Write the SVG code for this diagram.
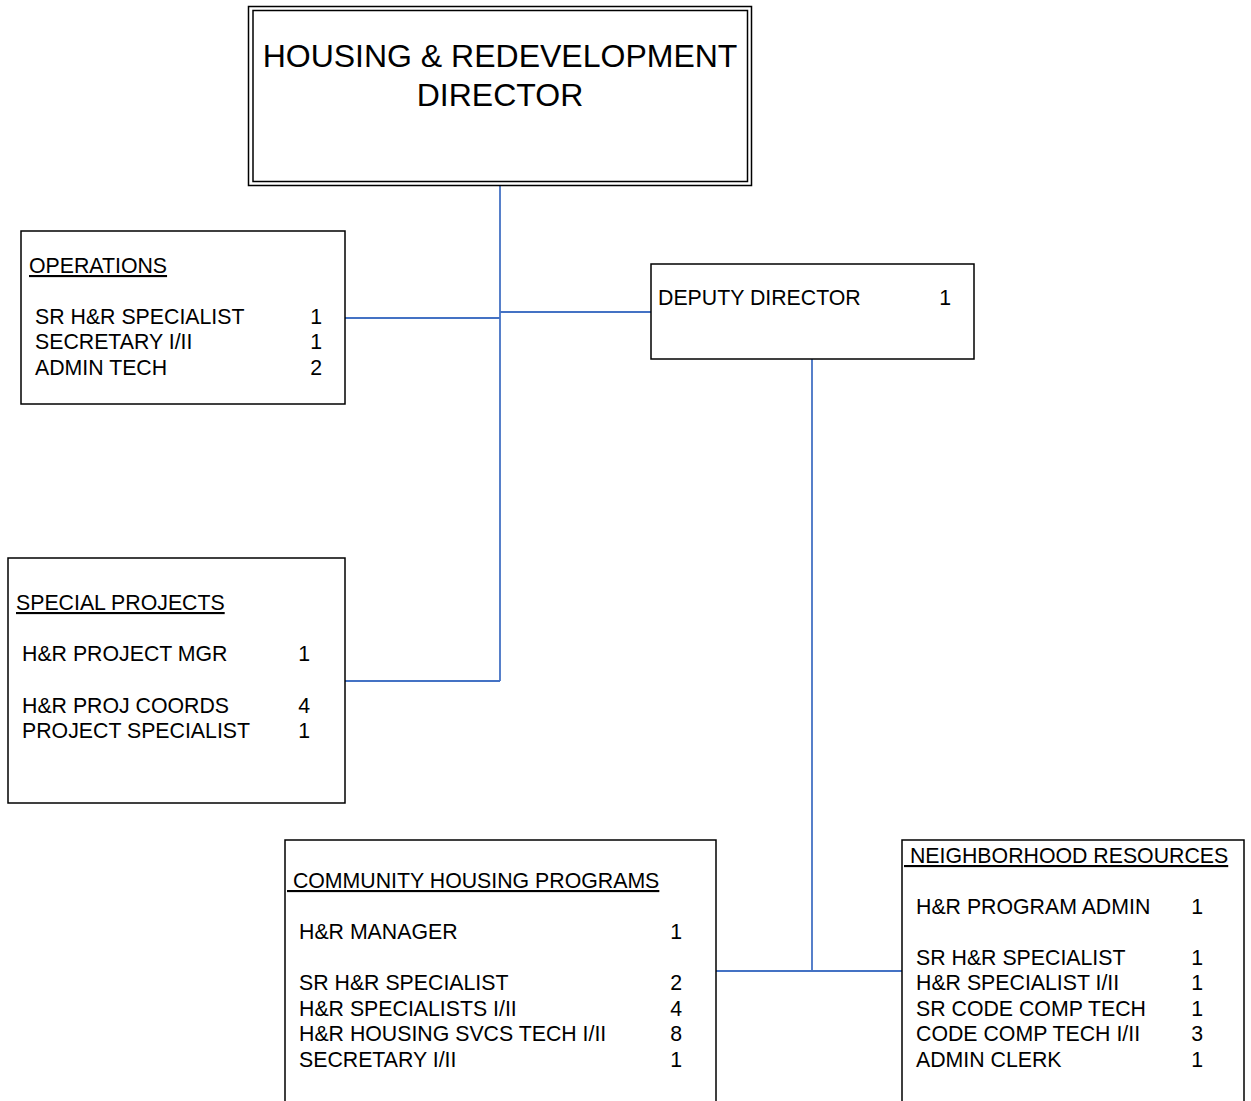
<svg xmlns="http://www.w3.org/2000/svg" width="1251" height="1101" viewBox="0 0 1251 1101">
  <style>
    .box { fill: #ffffff; stroke: #000000; stroke-width: 1.5; }
    .link { fill: none; stroke: #4472C4; stroke-width: 1.8; }
    text { font-family: "Liberation Sans", Arial, sans-serif; fill: #000000; }
    .t { font-size: 21.3px; }
    .title { font-size: 32px; text-anchor: middle; }
    .num { text-anchor: end; }
    .head { text-decoration: underline; }
  </style>

  <rect width="1251" height="1101" fill="#ffffff"/>

  <!-- reporting lines -->
  <g id="connectors">
    <path class="link" d="M500,186 V681"/>
    <path class="link" d="M345,318 H500"/>
    <path class="link" d="M500,312 H651"/>
    <path class="link" d="M345,681 H500"/>
    <path class="link" d="M812,359 V971"/>
    <path class="link" d="M716,971 H902"/>
  </g>

  <g id="director">
    <rect class="box" x="248.5" y="6.5" width="503" height="179"/>
    <rect class="box" x="253" y="10.5" width="494.5" height="171"/>
    <text class="title" x="500" y="67">HOUSING &amp; REDEVELOPMENT</text>
    <text class="title" x="500" y="106">DIRECTOR</text>
  </g>

  <g id="operations">
    <rect class="box" x="21" y="231" width="324" height="173"/>
    <text class="t head" x="29" y="273">OPERATIONS</text>
    <text class="t" x="35" y="324">SR H&amp;R SPECIALIST</text>
    <text class="t num" x="322" y="324">1</text>
    <text class="t" x="35" y="349">SECRETARY I/II</text>
    <text class="t num" x="322" y="349">1</text>
    <text class="t" x="35" y="375">ADMIN TECH</text>
    <text class="t num" x="322" y="375">2</text>
  </g>

  <g id="deputy-director">
    <rect class="box" x="651" y="264" width="323" height="95"/>
    <text class="t" x="658" y="305">DEPUTY DIRECTOR</text>
    <text class="t num" x="951" y="305">1</text>
  </g>

  <g id="special-projects">
    <rect class="box" x="8" y="558" width="337" height="245"/>
    <text class="t head" x="16" y="610">SPECIAL PROJECTS</text>
    <text class="t" x="22" y="661">H&amp;R PROJECT MGR</text>
    <text class="t num" x="310" y="661">1</text>
    <text class="t" x="22" y="713">H&amp;R PROJ COORDS</text>
    <text class="t num" x="310" y="713">4</text>
    <text class="t" x="22" y="738">PROJECT SPECIALIST</text>
    <text class="t num" x="310" y="738">1</text>
  </g>

  <g id="community-housing">
    <rect class="box" x="285" y="840" width="431" height="275"/>
    <text class="t head" x="287" y="888" xml:space="preserve"> COMMUNITY HOUSING PROGRAMS</text>
    <text class="t" x="299" y="939">H&amp;R MANAGER</text>
    <text class="t num" x="682" y="939">1</text>
    <text class="t" x="299" y="990">SR H&amp;R SPECIALIST</text>
    <text class="t num" x="682" y="990">2</text>
    <text class="t" x="299" y="1016">H&amp;R SPECIALISTS I/II</text>
    <text class="t num" x="682" y="1016">4</text>
    <text class="t" x="299" y="1041">H&amp;R HOUSING SVCS TECH I/II</text>
    <text class="t num" x="682" y="1041">8</text>
    <text class="t" x="299" y="1067">SECRETARY I/II</text>
    <text class="t num" x="682" y="1067">1</text>
  </g>

  <g id="neighborhood-resources">
    <rect class="box" x="902" y="840" width="342" height="275"/>
    <text class="t head" x="904" y="863" xml:space="preserve"> NEIGHBORHOOD RESOURCES</text>
    <text class="t" x="916" y="914">H&amp;R PROGRAM ADMIN</text>
    <text class="t num" x="1203" y="914">1</text>
    <text class="t" x="916" y="965">SR H&amp;R SPECIALIST</text>
    <text class="t num" x="1203" y="965">1</text>
    <text class="t" x="916" y="990">H&amp;R SPECIALIST I/II</text>
    <text class="t num" x="1203" y="990">1</text>
    <text class="t" x="916" y="1016">SR CODE COMP TECH</text>
    <text class="t num" x="1203" y="1016">1</text>
    <text class="t" x="916" y="1041">CODE COMP TECH I/II</text>
    <text class="t num" x="1203" y="1041">3</text>
    <text class="t" x="916" y="1067">ADMIN CLERK</text>
    <text class="t num" x="1203" y="1067">1</text>
  </g>
</svg>
